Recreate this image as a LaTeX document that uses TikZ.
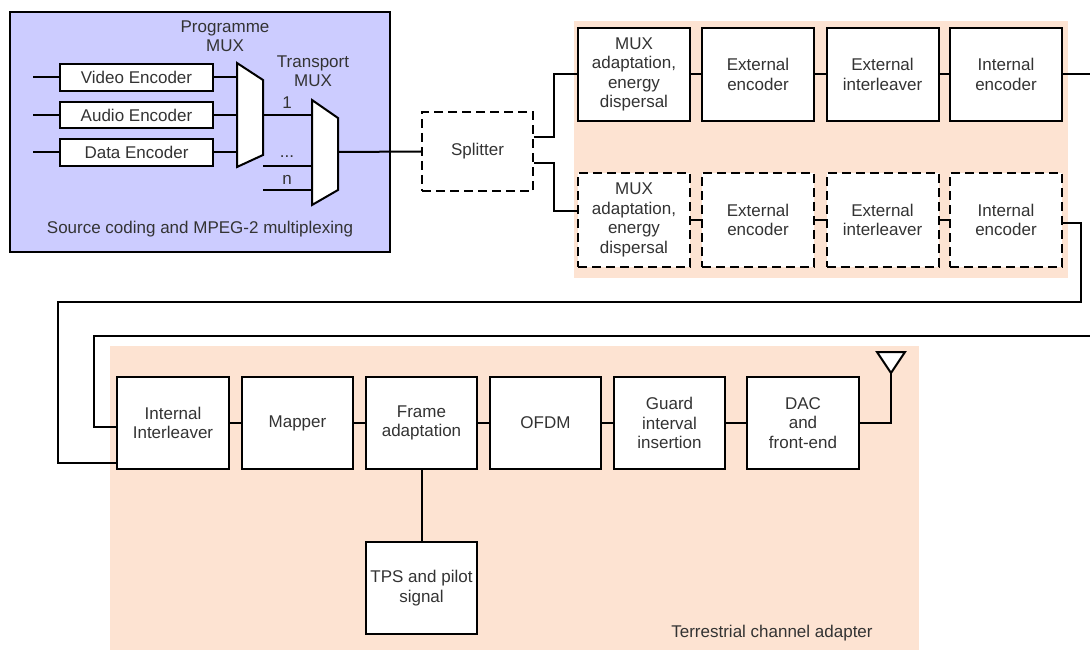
\documentclass[tikz,border=0pt]{standalone}
\usepackage{fontspec}
\setmainfont{Liberation Sans}
\usetikzlibrary{calc}
\definecolor{srcblue}{HTML}{CCCCFF}
\definecolor{chanorange}{HTML}{FDE3D2}
\definecolor{txtgray}{HTML}{333333}
\begin{document}
\begin{tikzpicture}[x=1pt,y=-1pt,
  every node/.style={font=\fontsize{17}{19.5}\selectfont, text=txtgray, inner sep=0pt},
  wire/.style={line width=2pt, line join=miter},
  blockbox/.style={draw=black, line width=2pt, fill=white, align=center, inner sep=0pt},
  dashbox/.style={blockbox, dash pattern=on 9pt off 5pt},
  encbox/.style={blockbox, minimum width=153pt},
  chainbox/.style={blockbox, minimum width=112pt, minimum height=93pt},
  chaindash/.style={dashbox, minimum width=112pt, minimum height=94pt},
  txbox/.style={blockbox, minimum width=111pt, minimum height=92pt},
  muxshape/.style={draw=black, line width=2pt, fill=white, line join=miter}]

\useasboundingbox (0,0) rectangle (1090,650);

% background regions
\fill[chanorange] (574,21) rectangle (1068,278);
\fill[chanorange] (110,346) rectangle (919,650);
\draw[line width=2pt, fill=srcblue] (10,12) rectangle (390,252);

% ---- source coding and multiplexing ----
\node[encbox, minimum height=27pt] (venc) at (136.5,77.5) {Video Encoder};
\node[encbox, minimum height=26pt] (aenc) at (136.5,115) {Audio Encoder};
\node[encbox, minimum height=27pt] (denc) at (136.5,152.5) {Data Encoder};
\coordinate (vin) at (33,77.5);
\coordinate (ain) at (33,115);
\coordinate (din) at (33,152.5);
\draw[wire] (vin) -- (venc.west);
\draw[wire] (ain) -- (aenc.west);
\draw[wire] (din) -- (denc.west);

% programme multiplexer
\draw[muxshape] (237,63) -- (263,80) -- (263,155) -- (237,167) -- cycle;
\coordinate (pm-v) at (237,77.5);
\coordinate (pm-a) at (237,115);
\coordinate (pm-d) at (237,152.5);
\coordinate (pm-out) at (263,115);
\draw[wire] (venc.east) -- (pm-v);
\draw[wire] (aenc.east) -- (pm-a);
\draw[wire] (denc.east) -- (pm-d);
\node[align=center] (pmlabel) at (225,36) {Programme\\MUX};

% transport multiplexer
\draw[muxshape] (312,100) -- (338,118) -- (338,190) -- (312,205) -- cycle;
\coordinate (tm-1) at (312,115);
\coordinate (tm-k) at (312,166);
\coordinate (tm-n) at (312,190);
\coordinate (tm-kin) at (263,166);
\coordinate (tm-nin) at (263,190);
\coordinate (tm-out) at (338,152);
\draw[wire] (pm-out) -- (tm-1);
\draw[wire] (tm-kin) -- (tm-k);
\draw[wire] (tm-nin) -- (tm-n);
\node (lab1) at (287,103) {1};
\node (labk) at (287,157) {...};
\node (labn) at (287,180) {n};
\node[align=center] (tmlabel) at (313,71) {Transport\\MUX};
\node (srccap) at (200,229) {Source coding and MPEG-2 multiplexing};

% ---- splitter ----
\node[dashbox, minimum width=111pt, minimum height=79pt] (split) at (477.5,151.5) {Splitter};
\draw[wire] (tm-out) -- (split.west);

% ---- channel coding, first branch ----
\node[chainbox] (mux1) at (634,74.5) {MUX\\adaptation,\\energy\\dispersal};
\node[chainbox] (ext1) at (758,74.5) {External\\encoder};
\node[chainbox] (ilv1) at (882.5,74.5) {External\\interleaver};
\node[chainbox] (int1) at (1006,74.5) {Internal\\encoder};
\draw[wire] (mux1) -- (ext1);
\draw[wire] (ext1) -- (ilv1);
\draw[wire] (ilv1) -- (int1);

% ---- channel coding, second branch ----
\node[chaindash] (mux2) at (634,220) {MUX\\adaptation,\\energy\\dispersal};
\node[chaindash] (ext2) at (758,220) {External\\encoder};
\node[chaindash] (ilv2) at (882.5,220) {External\\interleaver};
\node[chaindash] (int2) at (1006,220) {Internal\\encoder};
\draw[wire] (mux2) -- (ext2);
\draw[wire] (ext2) -- (ilv2);
\draw[wire] (ilv2) -- (int2);

\draw[wire] ([yshift=14.5pt]split.east) -- ++(20,0) |- (mux1.west);
\draw[wire] ([yshift=-11.5pt]split.east) -- ++(20,0) |- ([yshift=9pt]mux2.west);

% ---- terrestrial channel adapter ----
\node[txbox, minimum width=112pt] (ilv) at (173,423) {Internal\\Interleaver};
\node[txbox] (map) at (297.5,423) {Mapper};
\node[txbox] (frame) at (421.5,423) {Frame\\adaptation};
\node[txbox] (ofdm) at (545.5,423) {OFDM};
\node[txbox] (guard) at (669.5,423) {Guard\\interval\\insertion};
\node[txbox, minimum width=112pt] (dac) at (803,423) {DAC\\and\\front-end};
\node[txbox] (tps) at (421.5,588) {TPS and pilot\\signal};
\draw[wire] (ilv) -- (map);
\draw[wire] (map) -- (frame);
\draw[wire] (frame) -- (ofdm);
\draw[wire] (ofdm) -- (guard);
\draw[wire] (guard) -- (dac);
\draw[wire] (frame) -- (tps);

% antenna
\coordinate (ant) at (891,373);
\draw[muxshape] (877,352) -- (905,352) -- (ant) -- cycle;
\draw[wire] (dac.east) -| (ant);

\node (tcap) at (772,633) {Terrestrial channel adapter};

% ---- links from the coders to the interleaver ----
\coordinate (edgeA) at (1091,336);
\coordinate (loopA) at (94,336);
\draw[wire] (int1.east) -| (edgeA) -- (loopA) |- ([yshift=-4pt]ilv.west);
\coordinate (edgeB) at (1081,302);
\coordinate (loopB) at (58,302);
\draw[wire] ([yshift=-3pt]int2.east) -| (edgeB) -- (loopB) |- ([yshift=-40pt]ilv.west);
\end{tikzpicture}
\end{document}
